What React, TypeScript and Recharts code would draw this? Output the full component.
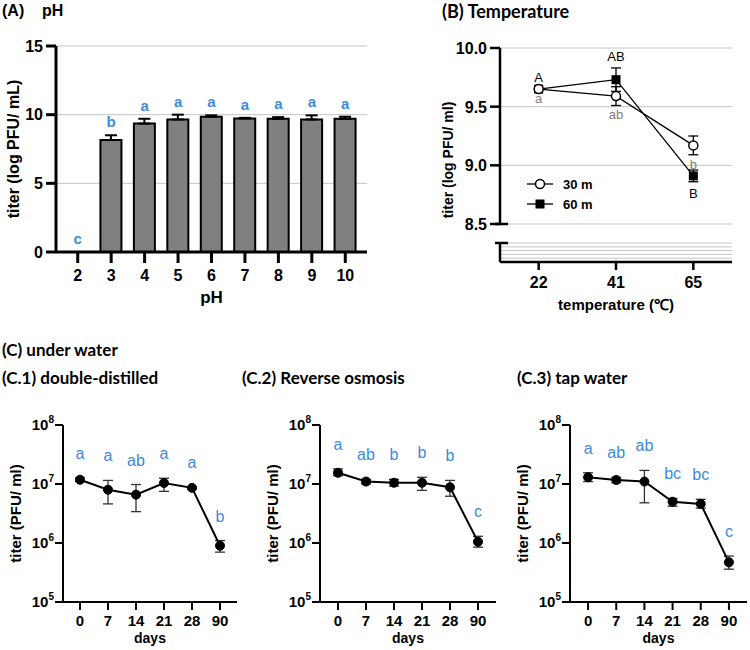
import React from 'react';
import {
  ComposedChart,
  Bar,
  Line,
  XAxis,
  YAxis,
  CartesianGrid,
  ErrorBar,
  LabelList,
  Legend,
} from 'recharts';

const SANS = '"Liberation Sans", Arial, Helvetica, sans-serif';
const HEAD = 'Lato, "Open Sans", sans-serif';
const BLUE = '#3d8ae0';
const GRID = '#c4c4c4';

// (A) pH stability
const phLevels = ['2', '3', '4', '5', '6', '7', '8', '9', '10'];
const phTiter = [0, 8.15, 9.35, 9.65, 9.85, 9.72, 9.7, 9.65, 9.7];
const phSd = [0, 0.35, 0.35, 0.35, 0.1, 0.05, 0.12, 0.3, 0.15];
const phGroups = ['c', 'b', 'a', 'a', 'a', 'a', 'a', 'a', 'a'];

// (B) temperature, 30 and 60 minute exposure
const temps = ['22', '41', '65'];
const titer30 = [9.65, 9.59, 9.17];
const sd30 = [0, 0.08, 0.08];
const groups30 = ['a', 'ab', 'b'];
const titer60 = [9.65, 9.73, 8.91];
const sd60 = [0, 0.1, 0.05];
const groups60 = ['A', 'AB', 'B'];

// (C) storage in water, titer with lower / upper error bounds
const days = ['0', '7', '14', '21', '28', '90'];

const ddTiter = [1.18e7, 8.0e6, 6.6e6, 1.04e7, 8.6e6, 9.0e5];
const ddLow = [1.1e7, 4.6e6, 3.4e6, 7.5e6, 8.2e6, 7.0e5];
const ddHigh = [1.26e7, 1.15e7, 9.8e6, 1.25e7, 9.0e6, 1.1e6];
const ddGroups = ['a', 'a', 'ab', 'a', 'a', 'b'];

const roTiter = [1.55e7, 1.1e7, 1.05e7, 1.05e7, 8.8e6, 1.05e6];
const roLow = [1.38e7, 1.0e7, 9.2e6, 7.8e6, 6.2e6, 8.5e5];
const roHigh = [1.8e7, 1.2e7, 1.2e7, 1.3e7, 1.15e7, 1.3e6];
const roGroups = ['a', 'ab', 'b', 'b', 'b', 'c'];

const tapTiter = [1.3e7, 1.17e7, 1.1e7, 5.0e6, 4.6e6, 4.7e5];
const tapLow = [1.1e7, 1.05e7, 4.8e6, 4.2e6, 3.9e6, 3.6e5];
const tapHigh = [1.55e7, 1.3e7, 1.7e7, 5.7e6, 5.5e6, 6.0e5];
const tapGroups = ['a', 'ab', 'ab', 'bc', 'bc', 'c'];

const phData = phLevels.map((ph, i) => ({
  ph,
  titer: phTiter[i],
  err: [0, phSd[i]],
  top: phTiter[i] + phSd[i],
  group: phGroups[i],
}));

// letters sit just outside the error bars: 30 m below, 60 m above (below at 65)
const tempData = temps.map((temp, i) => ({
  temp,
  m30: titer30[i],
  e30: sd30[i],
  p30: titer30[i] - sd30[i] - 0.085,
  g30: groups30[i],
  m60: titer60[i],
  e60: sd60[i],
  p60: titer60[i] + (i === 2 ? -1 : 1) * (sd60[i] + 0.1),
  g60: groups60[i],
  base: 0,
}));

const storageData = (titer: number[], low: number[], high: number[], groups: string[]) =>
  days.map((day, i) => ({
    day,
    titer: titer[i],
    err: [titer[i] - low[i], high[i] - titer[i]],
    top: high[i],
    group: groups[i],
  }));

const tickFont = { fontFamily: SANS, fontSize: 16, fontWeight: 700, fill: '#000' };
const axisBlack = (w: number) => ({ stroke: '#000', strokeWidth: w });

const yTitle = (text: string, baseX: number, shiftY: number, size: number) => ({
  content: ({ viewBox }: any) => (
    <text
      transform={`translate(${viewBox.x + baseX},${viewBox.y + viewBox.height / 2 + shiftY}) rotate(-90)`}
      textAnchor="middle"
      fontFamily={SANS}
      fontSize={size}
      fontWeight={700}
      fill="#000"
    >
      {text}
    </text>
  ),
});

const xTitle = (text: string, baseY: number, size: number) => ({
  content: ({ viewBox }: any) => (
    <text
      x={viewBox.x + viewBox.width / 2}
      y={viewBox.y + baseY}
      textAnchor="middle"
      fontFamily={SANS}
      fontSize={size}
      fontWeight={700}
      fill="#000"
    >
      {text}
    </text>
  ),
});

const pointOf = (p: any) => ({
  x: p.x ?? p.viewBox?.x,
  y: p.y ?? p.viewBox?.y,
  w: p.width ?? p.viewBox?.width ?? 0,
});

const PhLetter = (p: any) => {
  const { x, y, w } = pointOf(p);
  return (
    <text x={x + w / 2} y={y - 8} textAnchor="middle" fill={BLUE} fontFamily={SANS} fontSize={15} fontWeight={700}>
      {p.value}
    </text>
  );
};

const tempLetter = (color: string, drop: number) => (p: any) => {
  const { x, y, w } = pointOf(p);
  return (
    <text x={x + w / 2} y={y + drop} textAnchor="middle" fill={color} fontFamily={SANS} fontSize={13}>
      {p.value}
    </text>
  );
};

const StorageLetter = (p: any) => {
  const { x, y, w } = pointOf(p);
  return (
    <text x={x + w / 2} y={y - 19} textAnchor="middle" fill={BLUE} fontFamily={SANS} fontSize={16}>
      {p.value}
    </text>
  );
};

const square = (p: any) => (
  <rect key={`sq-${p.index}`} x={p.cx - 4.5} y={p.cy - 4.5} width={9} height={9} fill="#000" />
);

// top segment y ticks, with a cap at the axis break
const TempTick = (p: any) => {
  const { x, y, payload } = p;
  return (
    <g>
      <text x={x} y={y} dy={6} textAnchor="end" {...tickFont}>
        {payload.value.toFixed(1)}
      </text>
      {payload.value === 8.5 && <line x1={x + 8} x2={x + 21} y1={y} y2={y} stroke="#000" strokeWidth={2.5} />}
    </g>
  );
};

// lower segment: only the cap at the break, no labels
const BreakTick = (p: any) => {
  const { x, y, payload } = p;
  if (payload.value !== 5) return <g />;
  return <line x1={x + 8} x2={x + 21} y1={y} y2={y} stroke="#000" strokeWidth={2.5} />;
};

const PowerTick = (p: any) => {
  const { x, y, payload } = p;
  const exp = Math.round(Math.log10(payload.value));
  return (
    <text x={x} y={y} dy={5} textAnchor="end" fontFamily={SANS} fontSize={15} fontWeight={700} fill="#000">
      10
      <tspan dy={-7} fontSize={10}>
        {exp}
      </tspan>
    </text>
  );
};

const legendItems = [
  { label: '30 m', marker: <circle cx={13} cy={6} r={4.5} fill="#fff" stroke="#000" strokeWidth={1.5} /> },
  { label: '60 m', marker: <rect x={8.5} y={1.5} width={9} height={9} fill="#000" /> },
];

const TempLegend = () => (
  <div style={{ fontFamily: SANS, fontWeight: 700, fontSize: 13, color: '#000' }}>
    {legendItems.map((item) => (
      <div key={item.label} style={{ display: 'flex', alignItems: 'center', height: 20 }}>
        <svg width={26} height={12}>
          <line x1={0} x2={26} y1={6} y2={6} stroke="#000" strokeWidth={1.3} />
          {item.marker}
        </svg>
        <span style={{ marginLeft: 10 }}>{item.label}</span>
      </div>
    ))}
  </div>
);

const heading = (text: string, left: number, top: number, size: number, font = HEAD) => (
  <div
    style={{
      position: 'absolute',
      left,
      top,
      fontFamily: font,
      fontWeight: 700,
      fontSize: size,
      whiteSpace: 'pre',
      lineHeight: 1,
      color: '#000',
    }}
  >
    {text}
  </div>
);

function PhChart() {
  return (
    <ComposedChart width={380} height={310} data={phData} margin={{ top: 46, right: 13, bottom: 0, left: 0 }}>
      <CartesianGrid vertical={false} stroke={GRID} />
      <XAxis
        dataKey="ph"
        height={58}
        interval={0}
        padding={{ left: 5, right: 5 }}
        tickSize={11}
        tickMargin={7}
        axisLine={axisBlack(3)}
        tickLine={axisBlack(3)}
        tick={tickFont}
        label={xTitle('pH', 51, 17)}
      />
      <YAxis
        width={56}
        domain={[0, 15]}
        ticks={[0, 5, 10, 15]}
        tickSize={10}
        tickMargin={3}
        axisLine={axisBlack(3)}
        tickLine={axisBlack(3)}
        tick={tickFont}
        label={yTitle('titer (log PFU/ mL)', 19, 0, 16)}
      />
      <Bar dataKey="titer" fill="#808080" stroke="#000" strokeWidth={2} barSize={21} isAnimationActive={false}>
        <ErrorBar dataKey="err" width={6} stroke="#000" strokeWidth={2} />
      </Bar>
      <Line dataKey="top" stroke="none" dot={false} activeDot={false} isAnimationActive={false}>
        <LabelList dataKey="group" content={PhLetter} />
      </Line>
    </ComposedChart>
  );
}

function TempChart() {
  return (
    <div style={{ position: 'relative', width: 340, height: 320 }}>
      {/* lower segment below the axis break, carrying the x axis */}
      <div style={{ position: 'absolute', left: 0, top: 0 }}>
        <ComposedChart width={340} height={320} data={tempData} margin={{ top: 243, right: 8, bottom: 0, left: 0 }}>
          <CartesianGrid vertical={false} stroke={GRID} />
          <XAxis
            dataKey="temp"
            scale="band"
            height={58}
            tickSize={8}
            tickMargin={7}
            axisLine={axisBlack(2.5)}
            tickLine={axisBlack(2.5)}
            tick={tickFont}
            label={xTitle('temperature (\u2103)', 48, 15)}
          />
          <YAxis
            width={100}
            domain={[0, 5]}
            ticks={[0, 1, 2, 3, 4, 5]}
            interval={0}
            tickSize={10}
            tickMargin={3}
            tickLine={false}
            axisLine={axisBlack(2.5)}
            tick={<BreakTick />}
          />
          <Line dataKey="base" stroke="none" dot={false} activeDot={false} isAnimationActive={false} />
        </ComposedChart>
      </div>
      {/* upper segment, 8.5 to 10 */}
      <div style={{ position: 'absolute', left: 0, top: 0 }}>
        <ComposedChart width={340} height={240} data={tempData} margin={{ top: 48, right: 8, bottom: 16, left: 0 }}>
          <CartesianGrid vertical={false} stroke={GRID} />
          <XAxis dataKey="temp" scale="band" hide />
          <YAxis
            width={100}
            domain={[8.5, 10]}
            ticks={[8.5, 9, 9.5, 10]}
            interval={0}
            tickSize={10}
            tickMargin={3}
            axisLine={axisBlack(2.5)}
            tickLine={axisBlack(2.5)}
            tick={<TempTick />}
            label={yTitle('titer (log PFU/ ml)', 53, 24, 14)}
          />
          <Line
            dataKey="m60"
            stroke="#000"
            strokeWidth={1.3}
            dot={square}
            activeDot={false}
            isAnimationActive={false}
          >
            <ErrorBar dataKey="e60" width={5} stroke="#000" strokeWidth={1.3} />
          </Line>
          <Line
            dataKey="m30"
            stroke="#000"
            strokeWidth={1.3}
            dot={{ r: 4.5, fill: '#fff', stroke: '#000', strokeWidth: 1.5 }}
            activeDot={false}
            isAnimationActive={false}
          >
            <ErrorBar dataKey="e30" width={5} stroke="#000" strokeWidth={1.3} />
          </Line>
          <Line dataKey="p60" stroke="none" dot={false} activeDot={false} isAnimationActive={false}>
            <LabelList dataKey="g60" content={tempLetter('#000', 5)} />
          </Line>
          <Line dataKey="p30" stroke="none" dot={false} activeDot={false} isAnimationActive={false}>
            <LabelList dataKey="g30" content={tempLetter('#808080', 4)} />
          </Line>
          <Legend
            layout="vertical"
            align="center"
            verticalAlign="middle"
            wrapperStyle={{ left: 127, top: 174, width: 110 }}
            content={TempLegend}
          />
        </ComposedChart>
      </div>
    </div>
  );
}

function StorageChart({ data, axisWidth, plotWidth, pad }: { data: any[]; axisWidth: number; plotWidth: number; pad: number }) {
  return (
    <ComposedChart
      width={axisWidth + plotWidth + 6}
      height={250}
      data={data}
      margin={{ top: 25, right: 6, bottom: 0, left: 0 }}
    >
      <XAxis
        dataKey="day"
        scale="band"
        height={48}
        interval={0}
        padding={{ left: pad, right: pad }}
        tickSize={8}
        tickMargin={5}
        axisLine={axisBlack(2)}
        tickLine={axisBlack(2)}
        tick={{ ...tickFont, fontSize: 15 }}
        label={xTitle('days', 41, 14)}
      />
      <YAxis
        width={axisWidth}
        scale="log"
        domain={[1e5, 1e8]}
        ticks={[1e5, 1e6, 1e7, 1e8]}
        interval={0}
        allowDataOverflow
        tickSize={8}
        tickMargin={1}
        axisLine={axisBlack(2)}
        tickLine={axisBlack(2)}
        tick={<PowerTick />}
        label={yTitle('titer (PFU/ ml)', axisWidth - 42, 0, 15)}
      />
      <Line
        dataKey="titer"
        stroke="#000"
        strokeWidth={2}
        dot={{ r: 4.5, fill: '#000', stroke: '#000', strokeWidth: 1 }}
        activeDot={false}
        isAnimationActive={false}
      >
        <ErrorBar dataKey="err" width={5} stroke="#333" strokeWidth={1.3} />
      </Line>
      <Line dataKey="top" stroke="none" dot={false} activeDot={false} isAnimationActive={false}>
        <LabelList dataKey="group" content={StorageLetter} />
      </Line>
    </ComposedChart>
  );
}

export default function App() {
  return (
    <div style={{ position: 'absolute', left: 0, top: 0, width: 750, height: 650, background: '#fff', overflow: 'hidden' }}>
      {heading('(A)', 2, 3, 16, SANS)}
      {heading('pH', 42, 3, 16, SANS)}
      {heading('(B) Temperature', 442, 2, 18)}
      {heading('(C) under water', 2, 341, 17)}
      {heading('(C.1) double-distilled', 2, 369, 17)}
      {heading('(C.2) Reverse osmosis', 242, 369, 17)}
      {heading('(C.3) tap water', 517, 369, 17)}

      <div style={{ position: 'absolute', left: 0, top: 0 }}>
        <PhChart />
      </div>
      <div style={{ position: 'absolute', left: 400, top: 0 }}>
        <TempChart />
      </div>
      <div style={{ position: 'absolute', left: 0, top: 400 }}>
        <StorageChart data={storageData(ddTiter, ddLow, ddHigh, ddGroups)} axisWidth={63} plotWidth={174} pad={3} />
      </div>
      <div style={{ position: 'absolute', left: 250, top: 400 }}>
        <StorageChart data={storageData(roTiter, roLow, roHigh, roGroups)} axisWidth={70} plotWidth={176} pad={4} />
      </div>
      <div style={{ position: 'absolute', left: 500, top: 400 }}>
        <StorageChart data={storageData(tapTiter, tapLow, tapHigh, tapGroups)} axisWidth={70} plotWidth={177} pad={4} />
      </div>
    </div>
  );
}
